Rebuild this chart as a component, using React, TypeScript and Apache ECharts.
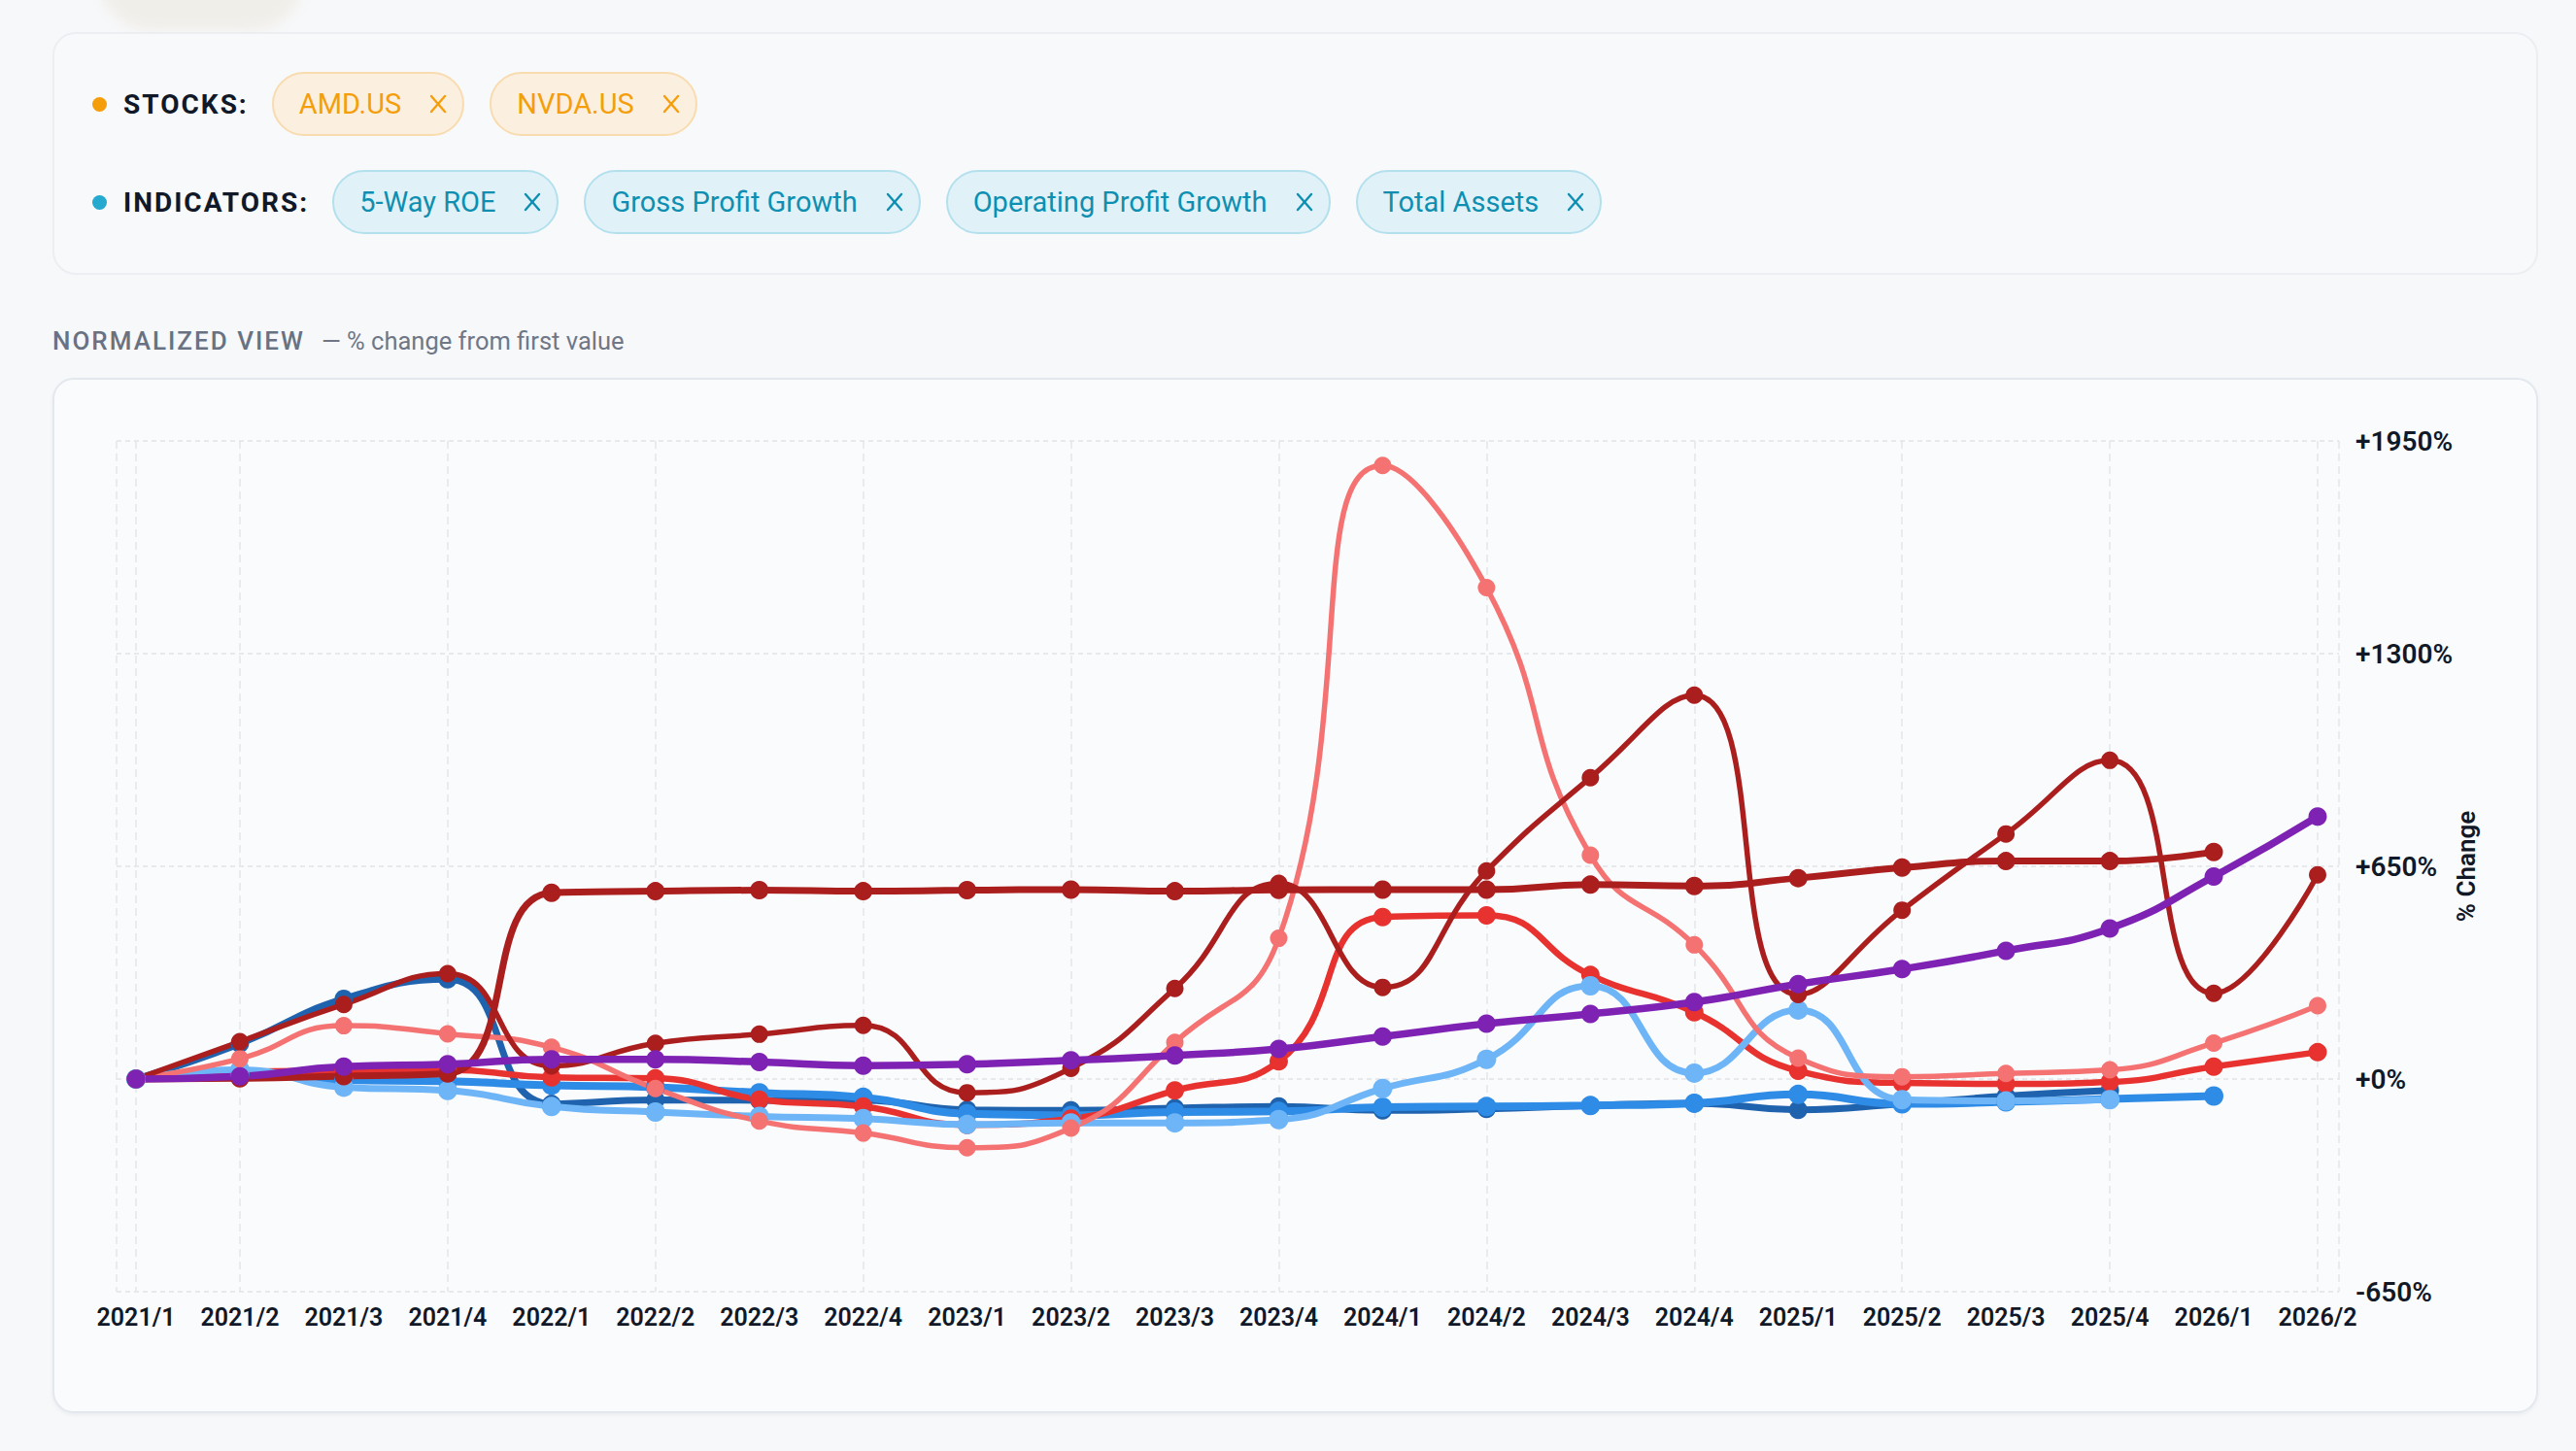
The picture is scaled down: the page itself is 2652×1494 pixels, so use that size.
import React, { useEffect, useRef } from 'react';
import * as echarts from 'echarts';

// ---------- data ----------
const categories = [
  '2021/1', '2021/2', '2021/3', '2021/4',
  '2022/1', '2022/2', '2022/3', '2022/4',
  '2023/1', '2023/2', '2023/3', '2023/4',
  '2024/1', '2024/2', '2024/3', '2024/4',
  '2025/1', '2025/2', '2025/3', '2025/4',
  '2026/1', '2026/2',
];

const yMin = -650;
const yMax = 1950;
const yStep = 650;

const stockNames = ['AMD.US', 'NVDA.US'];
const indicatorNames = ['5-Way ROE', 'Gross Profit Growth', 'Operating Profit Growth', 'Total Assets'];

const amdRoe = [0, 108, 245, 305, -76, -64, -65, -65, -94, -96, -89, -84, -96, -91, -81, -74, -94, -76, -52, -35];
const nvdaRoe = [0, 15, -3, -7, -19, -25, -42, -56, -106, -111, -101, -99, -86, -84, -81, -74, -47, -76, -70, -61, -52];
const amdGross = [0, 28, -25, -35, -84, -101, -114, -121, -139, -134, -134, -124, -29, 60, 285, 18, 211, -63, -67, -63];
const nvdaGross = [0, 22, 25, 28, 5, 2, -63, -84, -140, -121, -35, 54, 495, 500, 318, 204, 25, -12, -15, -9, 38, 82];
const amdOperating = [0, 62, 163, 138, 97, -29, -128, -165, -210, -150, 112, 430, 1875, 1502, 684, 410, 64, 7, 17, 28, 110, 224];
const nvdaOperating = [0, 114, 228, 322, 40, 109, 137, 164, -42, 33, 277, 598, 280, 636, 921, 1173, 258, 516, 749, 974, 262, 624];
const amdAssets = [0, 2, 9, 17, 569, 574, 577, 574, 577, 579, 574, 578, 579, 579, 594, 590, 614, 646, 666, 666, 694];
const nvdaAssets = [0, 8, 38, 45, 60, 60, 52, 41, 45, 57, 72, 92, 130, 169, 199, 235, 290, 336, 392, 460, 619, 802];

// drawing order: first = bottom
const seriesDefs = [
  { name: 'AMD.US · 5-Way ROE', data: amdRoe, color: '#1f63ae', width: 7, size: 19 },
  { name: 'NVDA.US · 5-Way ROE', data: nvdaRoe, color: '#2f8ce6', width: 8, size: 20 },
  { name: 'NVDA.US · Gross Profit Growth', data: nvdaGross, color: '#e8322f', width: 6.5, size: 19 },
  { name: 'AMD.US · Gross Profit Growth', data: amdGross, color: '#6db5f7', width: 7, size: 20 },
  { name: 'AMD.US · Operating Profit Growth', data: amdOperating, color: '#f47272', width: 5.5, size: 18 },
  { name: 'AMD.US · Total Assets', data: amdAssets, color: '#ab1e1e', width: 7, size: 19 },
  { name: 'NVDA.US · Operating Profit Growth', data: nvdaOperating, color: '#ab1e1e', width: 5.5, size: 18 },
  { name: 'NVDA.US · Total Assets', data: nvdaAssets, color: '#7e22b4', width: 7.5, size: 19 },
];

// ---------- UI pieces ----------
const CloseIcon = ({ color }: { color: string }) => (
  <svg width="18" height="20" viewBox="0 0 18 20" style={{ display: 'block' }}>
    <line x1="2" y1="2" x2="16" y2="18" stroke={color} strokeWidth="2.4" strokeLinecap="round" />
    <line x1="16" y1="2" x2="2" y2="18" stroke={color} strokeWidth="2.4" strokeLinecap="round" />
  </svg>
);

const Chip = ({ label, kind }: { label: string; kind: 'stock' | 'indicator' }) => {
  const c =
    kind === 'stock'
      ? { bg: '#fbf0df', border: '#f9dbb0', text: '#f59e0b' }
      : { bg: '#e0f2f8', border: '#b4e0ee', text: '#0e8fb2' };
  return (
    <div
      style={{
        height: 66,
        boxSizing: 'border-box',
        borderRadius: 33,
        border: `2px solid ${c.border}`,
        background: c.bg,
        display: 'flex',
        alignItems: 'center',
        paddingLeft: 26,
        paddingRight: 16,
        marginRight: 26,
        color: c.text,
        fontSize: 29,
        fontWeight: 400,
        whiteSpace: 'nowrap',
      }}
    >
      <span>{label}</span>
      <span style={{ width: 29 }} />
      <CloseIcon color={c.text} />
    </div>
  );
};

const FilterRow = ({
  top,
  dot,
  label,
  chips,
  kind,
}: {
  top: number;
  dot: string;
  label: string;
  chips: string[];
  kind: 'stock' | 'indicator';
}) => (
  <div style={{ position: 'absolute', left: 95, top, height: 66, display: 'flex', alignItems: 'center' }}>
    <div style={{ width: 15, height: 15, borderRadius: 8, background: dot, marginRight: 17 }} />
    <div
      style={{
        fontSize: 28,
        fontWeight: 700,
        letterSpacing: 2,
        color: '#111827',
        marginRight: 24,
      }}
    >
      {label}
    </div>
    {chips.map((c) => (
      <Chip key={c} label={c} kind={kind} />
    ))}
  </div>
);

// ---------- chart ----------
const axisText = { color: '#111827', fontFamily: 'Roboto', fontWeight: 600 as const };
const vGrid = { color: '#e3e6ea', width: 1.5, type: [8, 5] as number[] };
const hGrid = { color: '#e1e4e8', width: 1.5, type: [5, 4] as number[] };

function buildOption() {
  return {
    animation: false,
    textStyle: { fontFamily: 'Roboto' },
    grid: [
      { left: 120, right: 244, top: 454, bottom: 164 },
      { left: 140, right: 266, top: 454, bottom: 164 },
    ],
    xAxis: [
      {
        type: 'value',
        gridIndex: 0,
        min: 0,
        max: 1,
        interval: 1,
        axisLine: { show: false },
        axisTick: { show: false },
        axisLabel: { show: false },
        splitLine: { show: true, lineStyle: vGrid },
      },
      {
        type: 'category',
        gridIndex: 1,
        data: categories,
        boundaryGap: false,
        axisLine: { show: false },
        axisTick: { show: false },
        axisLabel: { interval: 0, margin: 14, fontSize: 25, ...axisText },
        splitLine: {
          show: true,
          interval: (i: number) => i === 0 || i % 2 === 1,
          lineStyle: vGrid,
        },
      },
    ],
    yAxis: [
      {
        type: 'value',
        gridIndex: 0,
        position: 'right',
        min: yMin,
        max: yMax,
        interval: yStep,
        axisLine: { show: false },
        axisTick: { show: false },
        axisLabel: {
          margin: 17,
          fontSize: 28,
          ...axisText,
          formatter: (v: number) => (v >= 0 ? '+' : '') + v + '%',
        },
        splitLine: { show: true, lineStyle: hGrid },
        name: '% Change',
        nameLocation: 'middle',
        nameGap: 118,
        nameMoveOverlap: false,
        nameTextStyle: { fontSize: 26, ...axisText },
      },
      {
        type: 'value',
        gridIndex: 1,
        min: yMin,
        max: yMax,
        show: false,
        splitLine: { show: false },
      },
    ],
    series: seriesDefs.map((s) => ({
      name: s.name,
      type: 'line',
      xAxisIndex: 1,
      yAxisIndex: 1,
      data: s.data,
      smooth: true,
      clip: false,
      symbol: 'circle',
      symbolSize: s.size,
      showSymbol: true,
      lineStyle: { width: s.width, color: s.color },
      itemStyle: { color: s.color },
    })),
  };
}

export default function App() {
  const ref = useRef<HTMLDivElement>(null);

  useEffect(() => {
    if (!ref.current) return;
    const chart = echarts.init(ref.current, null, { renderer: 'svg' });
    chart.setOption(buildOption() as any);
    return () => chart.dispose();
  }, []);

  return (
    <div
      style={{
        position: 'fixed',
        left: 0,
        top: 0,
        width: 2652,
        height: 1494,
        overflow: 'hidden',
        background: '#f7f8fa',
        fontFamily: 'Roboto, "Noto Sans", sans-serif',
      }}
    >
      {/* faint remnant at the very top */}
      <div
        style={{
          position: 'absolute',
          left: 100,
          top: -26,
          width: 214,
          height: 58,
          borderRadius: '0 0 60px 60px',
          background: '#eeebe4',
          filter: 'blur(7px)',
          opacity: 0.75,
        }}
      />

      {/* filter card */}
      <div
        style={{
          position: 'absolute',
          left: 54,
          top: 33,
          width: 2559,
          height: 250,
          boxSizing: 'border-box',
          border: '2px solid #eceef2',
          borderRadius: 24,
          background: '#f8f9fb',
        }}
      />
      <FilterRow top={74} dot="#f59e0b" label="STOCKS:" chips={stockNames} kind="stock" />
      <FilterRow top={175} dot="#25a9cf" label="INDICATORS:" chips={indicatorNames} kind="indicator" />

      {/* section title */}
      <div
        style={{
          position: 'absolute',
          left: 54,
          top: 336,
          display: 'flex',
          alignItems: 'baseline',
          whiteSpace: 'nowrap',
        }}
      >
        <span style={{ fontSize: 26, fontWeight: 500, letterSpacing: 2, color: '#687282' }}>NORMALIZED VIEW</span>
        <span style={{ fontSize: 25.5, fontWeight: 400, color: '#6f7787', marginLeft: 17 }}>
          — % change from first value
        </span>
      </div>

      {/* chart card */}
      <div
        style={{
          position: 'absolute',
          left: 54,
          top: 389,
          width: 2559,
          height: 1066,
          boxSizing: 'border-box',
          border: '2px solid #e3e8ef',
          borderRadius: 22,
          background: '#fafbfc',
          boxShadow: '0 2px 4px rgba(15,23,42,0.05)',
        }}
      />

      {/* chart layer, in page coordinates */}
      <div ref={ref} style={{ position: 'absolute', left: 0, top: 0, width: 2652, height: 1494 }} />
    </div>
  );
}
